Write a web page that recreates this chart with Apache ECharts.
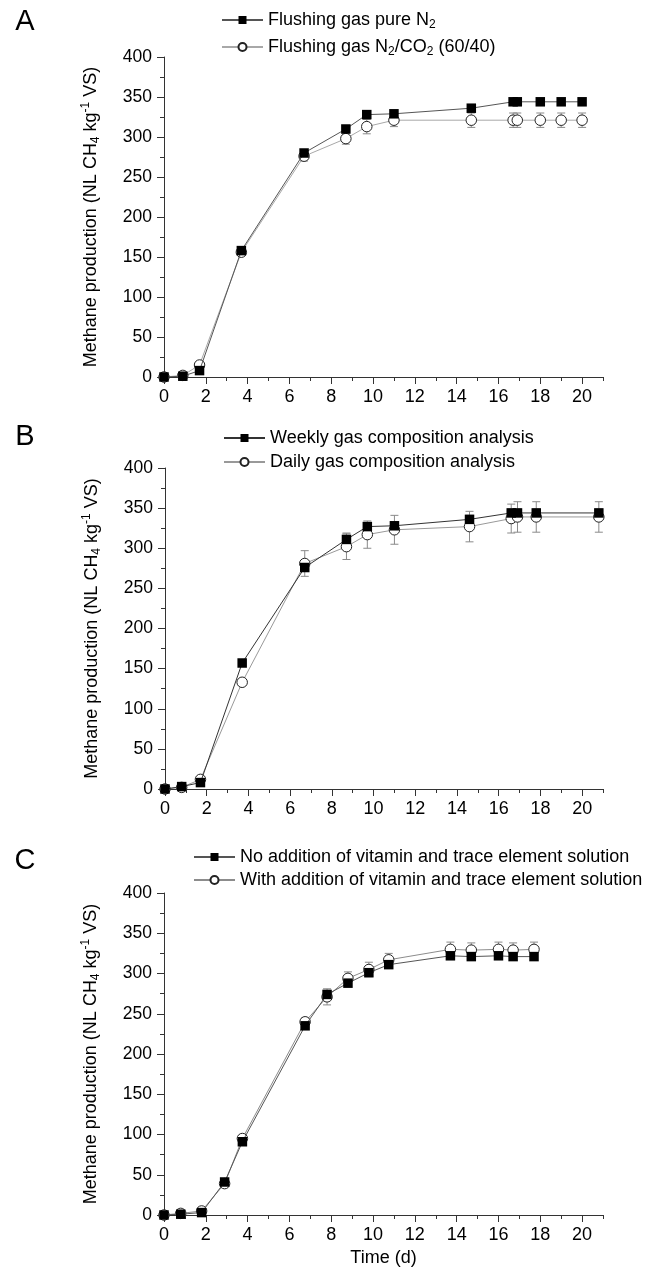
<!DOCTYPE html>
<html>
<head>
<meta charset="utf-8">
<script src="https://cdn.jsdelivr.net/npm/echarts@6/dist/echarts.min.js"></script>
<style>
html,body{margin:0;padding:0;background:#fff;}
#chart{width:661px;height:1269px;}
</style>
</head>
<body>
<div id="chart"></div>
<script>
// ---------- Data ----------
// Panel A
const xA = [0, 0.9, 1.7, 3.7, 6.7, 8.7, 9.7, 11.0, 14.7, 16.7, 16.9, 18.0, 19.0, 20.0];
const yA_pureN2 = [0, 1, 8, 158, 280, 310, 328, 329, 336, 344, 344, 344, 344, 344];
const eA_pureN2 = [0, 1, 2, 3, 3, 4, 4, 4, 4, 3, 3, 3, 3, 3];
const yA_N2CO2 = [0, 2, 15, 156, 276, 298, 313, 321, 321, 321, 321, 321, 321, 321];
const eA_N2CO2 = [0, 3, 4, 4, 6, 7, 9, 8, 9, 9, 9, 9, 9, 9];
// Panel B
const xB = [0, 0.8, 1.7, 3.7, 6.7, 8.7, 9.7, 11.0, 14.6, 16.6, 16.9, 17.8, 20.8];
const yB_weekly = [0, 3, 8, 157, 276, 311, 327, 328, 336, 344, 344, 344, 344];
const eB_weekly = [0, 1, 2, 3, 4, 8, 4, 5, 5, 5, 5, 5, 5];
const yB_daily = [0, 2, 12, 133, 281, 302, 317, 323, 327, 337, 339, 339, 339];
const eB_daily = [0, 1, 3, 3, 16, 16, 17, 18, 19, 18, 19, 19, 19];
// Panel C
const xC = [0, 0.8, 1.8, 2.9, 3.75, 6.75, 7.8, 8.8, 9.8, 10.75, 13.7, 14.7, 16.0, 16.7, 17.7];
const yC_no = [0, 1, 3, 41, 91, 235, 274, 288, 301, 311, 322, 321, 322, 321, 321];
const eC_no = [0, 1, 1, 3, 3, 4, 5, 4, 4, 4, 3, 3, 3, 3, 3];
const yC_with = [0, 2, 5, 39, 95, 240, 271, 294, 305, 317, 330, 329, 330, 329, 330];
const eC_with = [0, 1, 1, 3, 4, 5, 10, 8, 9, 8, 9, 9, 9, 9, 9];

const xMajorTicks = [0, 2, 4, 6, 8, 10, 12, 14, 16, 18, 20];
const xMinorTicks = [1, 3, 5, 7, 9, 11, 13, 15, 17, 19, 21];

const namesA = ['Flushing gas pure N2', 'Flushing gas N2/CO2 (60/40)'];
const namesB = ['Weekly gas composition analysis', 'Daily gas composition analysis'];
const namesC = ['No addition of vitamin and trace element solution', 'With addition of vitamin and trace element solution'];
const richNames = {
  'Flushing gas pure N2': 'Flushing gas pure N{sub|2}',
  'Flushing gas N2/CO2 (60/40)': 'Flushing gas N{sub|2}/CO{sub|2} (60/40)'
};

// ---------- Helpers ----------
const FONT = 'Liberation Sans, Arial, sans-serif';
const richStyles = {
  sub: {fontSize: 12, lineHeight: 12, verticalAlign: 'bottom', fontFamily: FONT, color: '#000'},
  sup: {fontSize: 12, lineHeight: 12, verticalAlign: 'top', fontFamily: FONT, color: '#000'}
};
function pairs(x, y) { return x.map((v, i) => [v, y[i]]); }
function errData(x, y, e) { return x.map((v, i) => [v, y[i] - e[i], y[i] + e[i]]); }

function errRender(params, api) {
  const x = api.value(0), lo = api.value(1), hi = api.value(2);
  const p1 = api.coord([x, lo]);
  const p2 = api.coord([x, hi]);
  const w = 4;
  const st = {stroke: '#8a8a8a', lineWidth: 1};
  return {
    type: 'group',
    children: [
      {type: 'line', shape: {x1: p1[0], y1: p1[1], x2: p2[0], y2: p2[1]}, style: st},
      {type: 'line', shape: {x1: p1[0] - w, y1: p1[1], x2: p1[0] + w, y2: p1[1]}, style: st},
      {type: 'line', shape: {x1: p2[0] - w, y1: p2[1], x2: p2[0] + w, y2: p2[1]}, style: st}
    ]
  };
}

const grids = [
  {left: 164, top: 57, width: 439, height: 320},
  {left: 165, top: 468, width: 438, height: 321},
  {left: 164, top: 893, width: 439, height: 322}
];

const xAxes = [];
const yAxes = [];
grids.forEach((g, gi) => {
  xAxes.push({
    type: 'value', gridIndex: gi, min: 0, max: 21, position: 'bottom',
    axisLine: {show: true, lineStyle: {color: '#333', width: 1}},
    axisTick: {show: true, length: 7, customValues: xMajorTicks, lineStyle: {color: '#333'}},
    axisLabel: {show: true, customValues: xMajorTicks, margin: 11, fontSize: 18, color: '#000', fontFamily: FONT},
    splitLine: {show: false},
    name: gi === 2 ? 'Time (d)' : '',
    nameLocation: 'middle', nameGap: 34,
    nameTextStyle: {fontSize: 18, color: '#000', fontFamily: FONT}
  });
  xAxes.push({
    type: 'value', gridIndex: gi, min: 0, max: 21, position: 'bottom',
    axisLine: {show: false},
    axisTick: {show: true, length: 4, customValues: xMinorTicks, lineStyle: {color: '#333'}},
    axisLabel: {show: false},
    splitLine: {show: false}
  });
  yAxes.push({
    type: 'value', gridIndex: gi, min: 0, max: 400, interval: 50,
    axisLine: {show: true, lineStyle: {color: '#333', width: 1}},
    axisTick: {show: true, length: 7, lineStyle: {color: '#333'}},
    minorTick: {show: true, splitNumber: 2, length: 4, lineStyle: {color: '#333'}},
    axisLabel: {margin: 12, fontSize: 17.5, color: '#000', fontFamily: FONT},
    splitLine: {show: false},
    name: 'Methane production (NL CH{sub|4} kg{sup|-1} VS)',
    nameLocation: 'middle', nameRotate: 90, nameGap: 62,
    nameTextStyle: {fontSize: 18, color: '#000', fontFamily: FONT, lineHeight: 22, rich: richStyles}
  });
});

function lineSeries(name, gi, x, y, kind, lineColor) {
  const isSq = kind === 'square';
  return {
    name: name, type: 'line', xAxisIndex: gi * 2, yAxisIndex: gi,
    data: pairs(x, y),
    symbol: isSq ? 'rect' : 'circle',
    symbolSize: isSq ? 9.5 : 10.5,
    itemStyle: isSq ? {color: '#000', borderColor: '#000', borderWidth: 0}
                    : {color: '#fff', borderColor: '#222', borderWidth: 1},
    lineStyle: {color: lineColor, width: 1},
    z: isSq ? 4 : 3,
    animation: false
  };
}
function errSeries(gi, x, y, e) {
  return {
    type: 'custom', xAxisIndex: gi * 2, yAxisIndex: gi,
    data: errData(x, y, e),
    renderItem: errRender,
    encode: {x: 0, y: [1, 2]},
    z: 2, silent: true, animation: false
  };
}

const series = [
  errSeries(0, xA, yA_N2CO2, eA_N2CO2),
  errSeries(0, xA, yA_pureN2, eA_pureN2),
  lineSeries(namesA[1], 0, xA, yA_N2CO2, 'circle', '#a8a8a8'),
  lineSeries(namesA[0], 0, xA, yA_pureN2, 'square', '#555'),
  errSeries(1, xB, yB_daily, eB_daily),
  errSeries(1, xB, yB_weekly, eB_weekly),
  lineSeries(namesB[1], 1, xB, yB_daily, 'circle', '#999'),
  lineSeries(namesB[0], 1, xB, yB_weekly, 'square', '#333'),
  errSeries(2, xC, yC_with, eC_with),
  errSeries(2, xC, yC_no, eC_no),
  lineSeries(namesC[1], 2, xC, yC_with, 'circle', '#8c8c8c'),
  lineSeries(namesC[0], 2, xC, yC_no, 'square', '#555')
];

function legendCfg(names, left, top, gap) {
  return {
    data: names, left: left, top: top, orient: 'vertical', padding: 0,
    itemWidth: 41, itemHeight: 10, itemGap: gap,
    textStyle: {fontSize: 18, color: '#000', fontFamily: FONT, lineHeight: 22, rich: richStyles},
    formatter: function (n) { return richNames[n] || n; },
    selectedMode: false
  };
}

const option = {
  backgroundColor: '#fff',
  animation: false,
  grid: grids,
  xAxis: xAxes,
  yAxis: yAxes,
  legend: [
    legendCfg(namesA, 221, 9, 5),
    legendCfg(namesB, 223, 427, 2),
    legendCfg(namesC, 193, 846, 1)
  ],
  graphic: [
    {type: 'text', x: 25, y: 22, style: {text: 'A', fontSize: 29, fontFamily: FONT, fill: '#000', align: 'center', verticalAlign: 'middle'}},
    {type: 'text', x: 25, y: 437, style: {text: 'B', fontSize: 29, fontFamily: FONT, fill: '#000', align: 'center', verticalAlign: 'middle'}},
    {type: 'text', x: 25, y: 861, style: {text: 'C', fontSize: 29, fontFamily: FONT, fill: '#000', align: 'center', verticalAlign: 'middle'}}
  ],
  series: series
};

const chart = echarts.init(document.getElementById('chart'), null, {renderer: 'canvas'});
chart.setOption(option);
</script>
</body>
</html>
